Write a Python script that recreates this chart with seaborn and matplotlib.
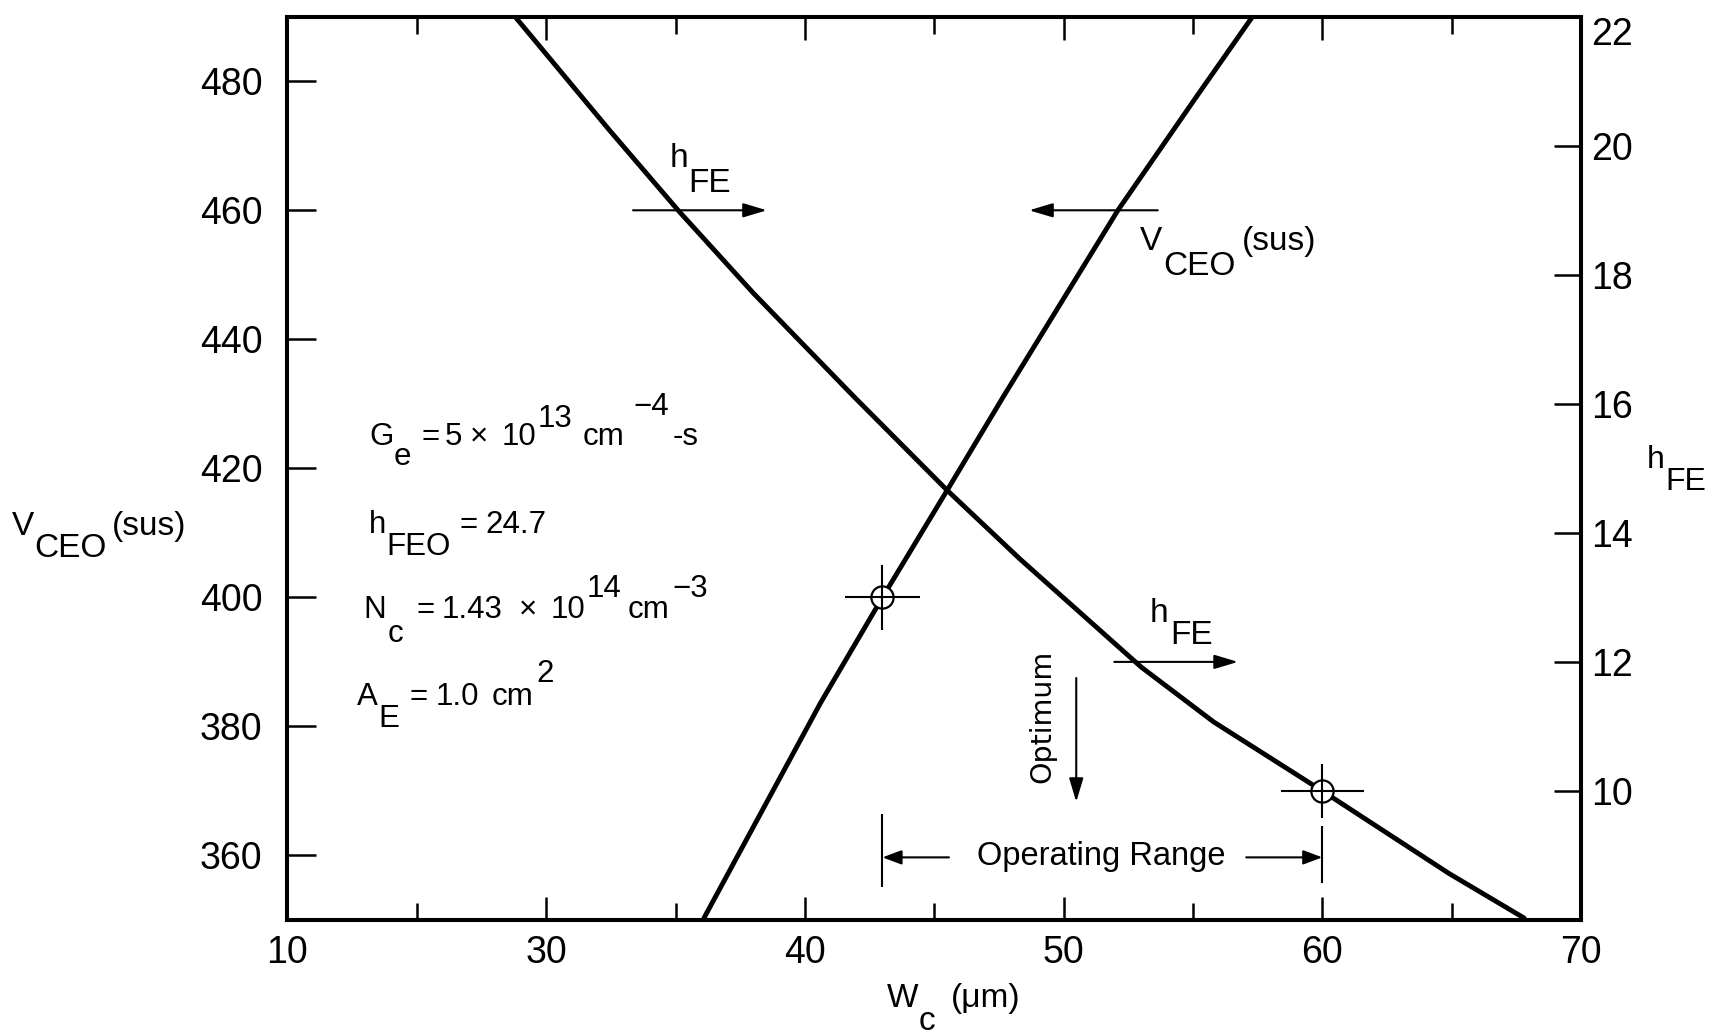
import matplotlib
matplotlib.use("Agg")
import matplotlib.pyplot as plt
import seaborn as sns

# ---- data -------------------------------------------------------------
# collector width W_c (um) and current gain h_FE (right axis)
w_hfe = [28.8, 32.45, 35.1, 38.0, 41.9, 45.5, 48.3, 53.0, 55.8, 60.0, 64.9, 67.8]
hfe = [22.0, 20.24, 19.0, 17.72, 16.11, 14.66, 13.6, 11.92, 11.07, 10.0, 8.72, 8.03]

# collector width W_c (um) and sustaining voltage V_CEO(sus) (left axis)
w_vceo = [36.1, 40.6, 43.0, 45.5, 47.7, 52.1, 55.1, 57.3]
vceo = [350.3, 383.6, 400.0, 416.6, 431.3, 460.0, 477.4, 490.0]

# operating-range end points
op_low = (43.0, 400.0)    # on the V_CEO curve
op_high = (60.0, 10.0)    # on the h_FE curve

x_major = [20, 30, 40, 50, 60, 70]
x_labels = ["10", "30", "40", "50", "60", "70"]
x_minor = [25, 35, 45, 55, 65]
y_left = [360, 380, 400, 420, 440, 460, 480]
y_right = [10, 12, 14, 16, 18, 20, 22]

# ---- style ------------------------------------------------------------
sns.set_style("ticks")
FONT = ["Liberation Sans", "DejaVu Sans"]
plt.rcParams["font.family"] = FONT
plt.rcParams.update({
    "axes.edgecolor": "black",
    "xtick.color": "black",
    "ytick.color": "black",
    "text.color": "black",
    "axes.facecolor": "white",
    "figure.facecolor": "white",
})
PT = 0.72  # pixels -> points at 100 dpi
K = "black"

fig = plt.figure(figsize=(17.14, 10.34), dpi=100)
ax = fig.add_axes([0.1677, 0.1103, 0.9224 - 0.1677, 0.9838 - 0.1103])
ax2 = ax.twinx()

sns.lineplot(x=w_vceo, y=vceo, ax=ax, color=K, linewidth=3.5,
             sort=False, estimator=None)
sns.lineplot(x=w_hfe, y=hfe, ax=ax2, color=K, linewidth=3.5,
             sort=False, estimator=None)

ax.set_xlim(20, 70)
ax.set_ylim(350, 490)
ax2.set_ylim(8, 22)

# ---- operating-range markers (circle with cross) ---------------------
ax.plot([op_low[0]], [op_low[1]], "o", ms=16, mfc="white", mec=K, mew=1.6, zorder=5)
ax.errorbar([op_low[0]], [op_low[1]], xerr=1.45, yerr=5.0, fmt="none",
            ecolor=K, elinewidth=1.5, capsize=0, zorder=6)
ax2.plot([op_high[0]], [op_high[1]], "o", ms=16, mfc="white", mec=K, mew=1.6, zorder=5)
ax2.errorbar([op_high[0]], [op_high[1]], xerr=1.6, yerr=0.42, fmt="none",
             ecolor=K, elinewidth=1.5, capsize=0, zorder=6)

# operating-range bracket
ax.vlines([op_low[0]], 355.1, 366.5, color=K, lw=1.5)
ax.vlines([op_high[0]], 355.7, 364.5, color=K, lw=1.5)


def arrow(a, tail, head, scale=36, hw=0.12):
    a.annotate("", xy=head, xytext=tail,
               arrowprops=dict(arrowstyle=f"-|>,head_length=0.4,head_width={hw}",
                               color=K, lw=1.5, mutation_scale=scale,
                               shrinkA=0, shrinkB=0), annotation_clip=False)


arrow(ax, (33.36, 460), (38.53, 460))
arrow(ax, (53.64, 460), (48.67, 460))
arrow(ax2, (51.96, 12), (56.74, 12))
arrow(ax, (50.49, 387.5), (50.49, 368.3))
arrow(ax, (45.57, 359.7), (43.0, 359.7), scale=29, hw=0.15)
arrow(ax, (57.06, 359.7), (60.0, 359.7), scale=29, hw=0.15)


def rich_text(x, y, parts, size, transform=None, **kw):
    """Lay out text pieces side by side; each part is (text, rise_px, gap_px)."""
    transform = transform or ax.transData
    text, rise, _ = parts[0]
    prev = ax.text(x, y, text, transform=transform, fontsize=size,
                   ha="left", va="baseline", **kw)
    prev_rise = rise
    for text, rise, gap in parts[1:]:
        prev = ax.annotate(text, xy=(1, 0), xycoords=prev,
                           xytext=(gap * PT, (rise - prev_rise) * PT),
                           textcoords="offset points", ha="left", va="bottom",
                           fontsize=size, annotation_clip=False, **kw)
        prev_rise = rise


# curve labels
rich_text(34.77, 466.75, [("h", 0, 0), ("FE", -25, 0)], 24)
rich_text(52.95, 453.8, [("V", 0, 0), ("CEO", -25, 1), ("(sus)", 0, 6)], 24)
rich_text(53.32, 396.2, [("h", 0, 0), ("FE", -22, 2)], 24)

# device parameters
P = 22.5
rich_text(23.15, 423.6, [("G", 0, 0), ("e", -20, 0), ("=", 0, 11), ("5", 0, 5),
                         ("×", 0, 8), ("10", 0, 13), ("13", 18, 1),
                         ("cm", 0, 11), ("−4", 30, 9), ("-s", 0, 3)], P)
rich_text(23.15, 409.95, [("h", 0, 0), ("FEO", -22, 0), ("=", 0, 9),
                          ("24.7", 0, 8)], P)
rich_text(22.95, 396.8, [("N", 0, 0), ("c", -24, 1), ("=", 0, 13),
                         ("1.43", 0, 7), ("×", 0, 17), ("10", 0, 13),
                         ("14", 21, 1), ("cm", 0, 7), ("−3", 21, 3)], P)
rich_text(22.7, 383.3, [("A", 0, 0), ("E", -22, 0), ("=", 0, 10),
                        ("1.0", 0, 8), ("cm", 0, 13), ("2", 23, 3)], P)

ax.text(51.46, 358.5, "Operating Range", fontsize=23.5, ha="center", va="baseline")
ax.text(49.19, 381.5, "Optimum", fontsize=20.5, rotation=90, ha="center",
        va="center", family=["DejaVu Sans"])

# axis labels
ft = fig.transFigure
rich_text(11.5 / 1714, 1 - 535 / 1034, [("V", 0, 0), ("CEO", -22, 0), ("(sus)", 0, 6)],
          24, transform=ft)
rich_text(1647 / 1714, 1 - 468 / 1034, [("h", 0, 0), ("FE", -22, 0)], 23, transform=ft)
rich_text(887 / 1714, 1 - 1007 / 1034, [("W", 0, 0), ("c", -23, 0), ("(μm)", 0, 16)],
          24, transform=ft)

# ---- ticks and frame --------------------------------------------------
ax.set_xticks(x_major, labels=x_labels)
ax.set_xticks(x_minor, minor=True)
ax.set_yticks(y_left, labels=[str(v) for v in y_left])
ax2.set_yticks(y_right, labels=[str(v) for v in y_right])
ax2.get_yticklabels()[-1].set_va("top")

ax.tick_params(axis="x", which="major", direction="in", length=16.5, width=1.8,
               top=True, bottom=True, labelsize=27, pad=11)
ax.tick_params(axis="x", which="minor", direction="in", length=12, width=1.8,
               top=True, bottom=True)
ax.tick_params(axis="y", which="both", direction="in", length=21, width=1.8,
               left=True, right=False, labelsize=27, pad=18)
ax2.tick_params(axis="y", which="both", direction="in", length=19.5, width=1.8,
                right=True, left=False, labelsize=27, pad=7)
for a in (ax, ax2):
    for s in a.spines.values():
        s.set_visible(True)
        s.set_linewidth(2.9)
        s.set_color(K)
    a.set_xlabel("")
    a.set_ylabel("")

fig.savefig("out.png", dpi=100)
